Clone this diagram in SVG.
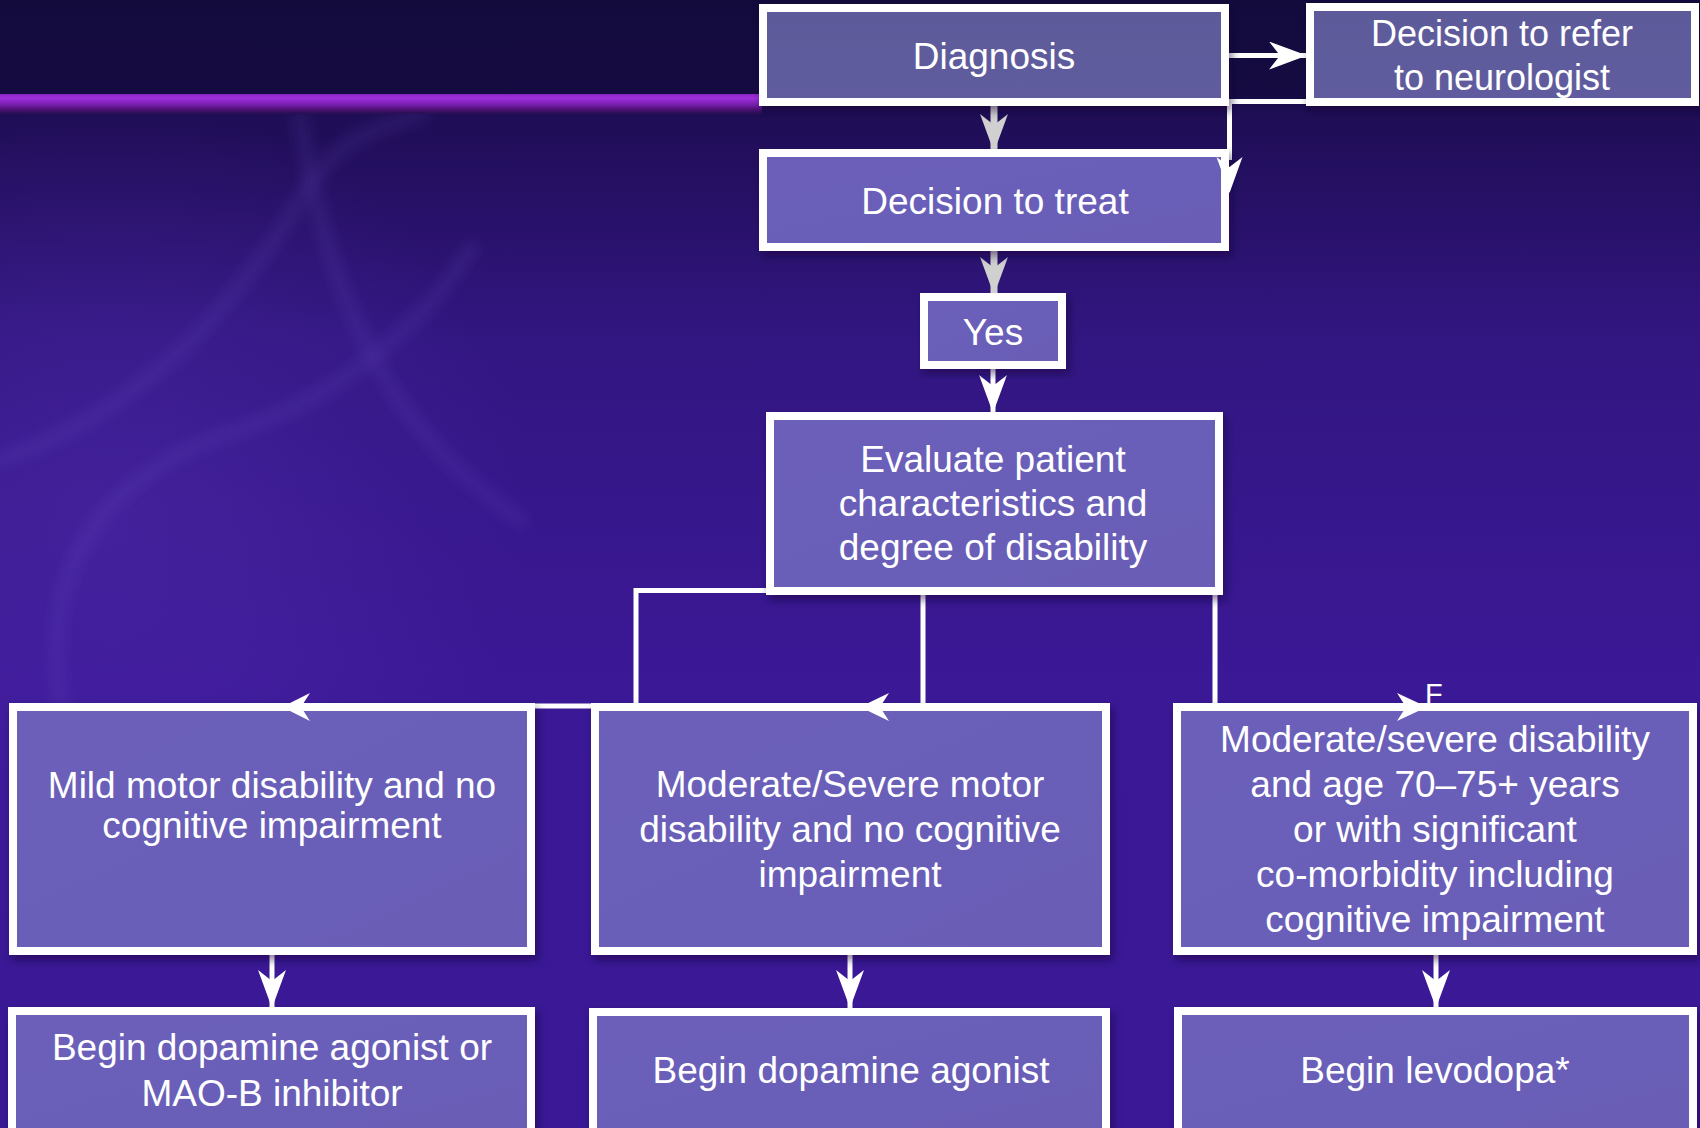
<svg xmlns="http://www.w3.org/2000/svg" width="1700" height="1128" viewBox="0 0 1700 1128">
<defs>
<linearGradient id="bg" x1="0" y1="0" x2="0" y2="1128" gradientUnits="userSpaceOnUse">
<stop offset="0" stop-color="#130a3c"/>
<stop offset="0.083" stop-color="#150b42"/>
<stop offset="0.1" stop-color="#1f0d55"/>
<stop offset="0.3" stop-color="#321681"/>
<stop offset="0.6" stop-color="#3b1896"/>
<stop offset="1" stop-color="#3a1896"/>
</linearGradient>
<linearGradient id="band" x1="0" y1="94" x2="0" y2="114" gradientUnits="userSpaceOnUse">
<stop offset="0" stop-color="#8a24c4"/>
<stop offset="0.2" stop-color="#a030dc"/>
<stop offset="0.5" stop-color="#7c20b4"/>
<stop offset="0.8" stop-color="#4a0f6e"/>
<stop offset="1" stop-color="#22104f"/>
</linearGradient>
<radialGradient id="glow" cx="110" cy="520" r="420" gradientUnits="userSpaceOnUse">
<stop offset="0" stop-color="#5a34b8" stop-opacity="0.35"/>
<stop offset="1" stop-color="#5a34b8" stop-opacity="0"/>
</radialGradient>
<linearGradient id="fillA" x1="0" y1="0" x2="0" y2="1">
<stop offset="0" stop-color="#5d5a9a"/>
<stop offset="1" stop-color="#605c9f"/>
</linearGradient>
<linearGradient id="fillB" x1="0" y1="0" x2="1" y2="1">
<stop offset="0" stop-color="#6c5fba"/>
<stop offset="1" stop-color="#6a5db6"/>
</linearGradient>
<filter id="sh" x="-5%" y="-5%" width="115%" height="125%">
<feDropShadow dx="3" dy="5" stdDeviation="4" flood-color="#10062e" flood-opacity="0.5"/>
</filter>
<filter id="blur" x="-20%" y="-20%" width="140%" height="140%">
<feGaussianBlur stdDeviation="6"/>
</filter>
<marker id="ahW" viewBox="0 0 38 28" refX="38" refY="14" markerWidth="38" markerHeight="28" markerUnits="userSpaceOnUse" orient="auto">
<path d="M38,14 L0,0 L11,14 L0,28 Z" fill="#ffffff"/>
</marker>
<marker id="ahG" viewBox="0 0 38 28" refX="38" refY="14" markerWidth="38" markerHeight="28" markerUnits="userSpaceOnUse" orient="auto">
<path d="M38,14 L0,0 L11,14 L0,28 Z" fill="#d0d0d0"/>
</marker>
</defs>
<style>
.box{stroke:#ffffff;stroke-width:8;filter:url(#sh)}
.a{fill:url(#fillA)}
.b{fill:url(#fillB)}
.t{font-family:"Liberation Sans",Arial,Helvetica,sans-serif;font-size:37px;fill:#ffffff;text-anchor:middle}
.cw{fill:none;stroke:#ffffff;stroke-width:5}
.cg{fill:none;stroke:#d0d0d0;stroke-width:7}
</style>

<g id="background">
<rect x="0" y="0" width="1700" height="1128" fill="url(#bg)"/>
<rect x="0" y="0" width="1700" height="1128" fill="url(#glow)"/>
<g fill="none" stroke="#7050d0" stroke-opacity="0.12" stroke-width="18" stroke-linecap="round" filter="url(#blur)">
<path d="M0,460 C120,420 220,330 300,200 C330,150 360,130 420,115"/>
<path d="M60,700 C40,560 110,470 240,430 C330,400 420,330 470,250"/>
<path d="M300,120 C330,300 380,420 520,520"/>
</g>
<rect x="0" y="94" width="762" height="20" fill="url(#band)"/>
</g>

<g id="connectors">
<line class="cg" x1="994" y1="106" x2="994" y2="152" marker-end="url(#ahG)"/>
<line class="cw" x1="1229" y1="55.5" x2="1307" y2="55.5" marker-end="url(#ahW)"/>
<polyline class="cw" points="1307,101.5 1229.5,101.5 1229.5,160"/>
<line class="cg" x1="994" y1="251" x2="994" y2="295" marker-end="url(#ahG)"/>
<line class="cw" x1="993" y1="369" x2="993" y2="413" marker-end="url(#ahW)"/>
<polyline class="cw" points="766,590.5 636,590.5 636,706 282,706"/>
<polyline class="cw" points="923,595 923,706 860,706"/>
<polyline class="cw" points="1215,595 1215,706 1427,706"/>
<line class="cw" x1="272" y1="955" x2="272" y2="1008" marker-end="url(#ahW)"/>
<line class="cw" x1="850" y1="955" x2="850" y2="1008" marker-end="url(#ahW)"/>
<line class="cw" x1="1436" y1="955" x2="1436" y2="1008" marker-end="url(#ahW)"/>
</g>

<g id="n-diagnosis">
<rect class="box a" x="763" y="8" width="462" height="94"/>
<text class="t" x="994" y="69">Diagnosis</text>
</g>
<g id="n-refer">
<rect class="box a" x="1310" y="7" width="385" height="95"/>
<text class="t" x="1502" y="46" style="font-size:36px">Decision to refer</text>
<text class="t" x="1502" y="90" style="font-size:36px">to neurologist</text>
</g>
<g id="n-treat">
<rect class="box b" x="763" y="153" width="462" height="94"/>
<text class="t" x="995" y="214">Decision to treat</text>
</g>
<g id="n-yes">
<rect class="box b" x="924" y="297" width="138" height="68"/>
<text class="t" x="993" y="345">Yes</text>
</g>
<g id="n-evaluate">
<rect class="box b" x="770" y="416" width="449" height="175"/>
<text class="t" x="993" y="472">Evaluate patient</text>
<text class="t" x="993" y="516">characteristics and</text>
<text class="t" x="993" y="560">degree of disability</text>
</g>
<g id="n-mild">
<rect class="box b" x="13" y="707" width="518" height="244"/>
<text class="t" x="272" y="798">Mild motor disability and no</text>
<text class="t" x="272" y="838">cognitive impairment</text>
</g>
<g id="n-modsev">
<rect class="box b" x="595" y="707" width="511" height="244"/>
<text class="t" x="850" y="797">Moderate/Severe motor</text>
<text class="t" x="850" y="842">disability and no cognitive</text>
<text class="t" x="850" y="887">impairment</text>
</g>
<g id="n-elderly">
<rect class="box b" x="1177" y="707" width="516" height="244"/>
<text class="t" x="1435" y="752">Moderate/severe disability</text>
<text class="t" x="1435" y="797">and age 70–75+ years</text>
<text class="t" x="1435" y="842">or with significant</text>
<text class="t" x="1435" y="887">co-morbidity including</text>
<text class="t" x="1435" y="932">cognitive impairment</text>
</g>
<g id="n-da-maob">
<rect class="box b" x="12" y="1011" width="519" height="130"/>
<text class="t" x="272" y="1060">Begin dopamine agonist or</text>
<text class="t" x="272" y="1106">MAO-B inhibitor</text>
</g>
<g id="n-da">
<rect class="box b" x="593" y="1012" width="513" height="130"/>
<text class="t" x="851" y="1083">Begin dopamine agonist</text>
</g>
<g id="n-levodopa">
<rect class="box b" x="1178" y="1011" width="515" height="130"/>
<text class="t" x="1435" y="1083">Begin levodopa*</text>
</g>

<g id="connector-heads">
<path d="M1229.5,193 L1216.5,157 L1229.5,167 L1242.5,157 Z" fill="#ffffff"/>
<path d="M282,707 L310,693 L301,707 L310,721 Z" fill="#ffffff"/>
<path d="M860,707 L889,693 L880,707 L889,721 Z" fill="#ffffff"/>
<path d="M1427,707 L1397,693 L1406,707 L1397,721 Z" fill="#ffffff"/>
<text x="1425" y="704" style="font-family:'Liberation Sans',Arial,sans-serif;font-size:29px;fill:#ffffff">F</text>
</g>
</svg>
